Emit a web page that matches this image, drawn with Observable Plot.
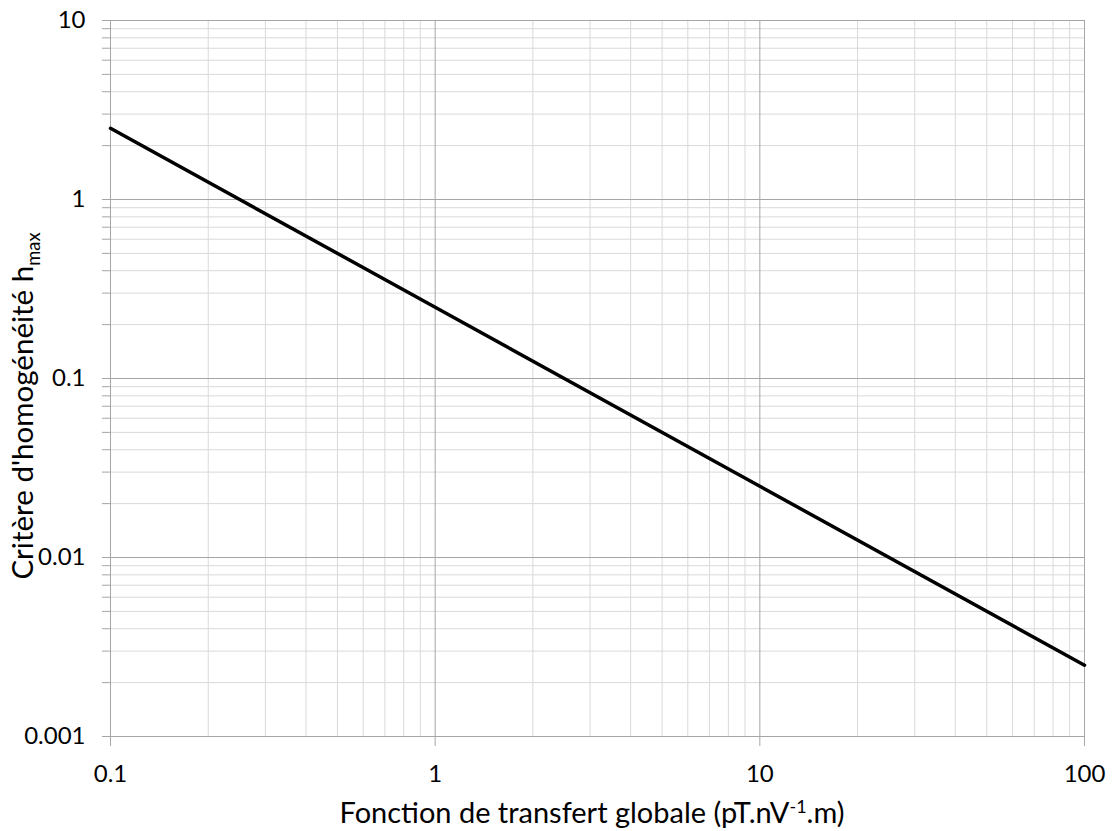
<!DOCTYPE html>
<html><head><meta charset="utf-8">
<script src="https://cdn.jsdelivr.net/npm/d3@7"></script>
<script src="https://cdn.jsdelivr.net/npm/@observablehq/plot@0.6"></script>
<style>body{margin:0;background:#fff;} svg{font-family:Lato,sans-serif;}</style>
</head><body><div id="chart"></div>
<script>
const transfer = [0.1, 1, 10, 100];
const hmax = [2.5, 0.25, 0.025, 0.0025];
const xMajor = [0.1, 1, 10, 100];
const yMajor = [0.001, 0.01, 0.1, 1, 10];
const xLabels = ["0.1", "1", "10", "100"];
const yLabels = ["0.001", "0.01", "0.1", "1", "10"];
const xMinor = [0.2,0.3,0.4,0.5,0.6,0.7,0.8,0.9,2,3,4,5,6,7,8,9,20,30,40,50,60,70,80,90];
const yMinor = [0.002,0.003,0.004,0.005,0.006,0.007,0.008,0.009,0.02,0.03,0.04,0.05,0.06,0.07,0.08,0.09,0.2,0.3,0.4,0.5,0.6,0.7,0.8,0.9,2,3,4,5,6,7,8,9];
const xTitle = ["Fonction de transfert globale (pT.nV", "-1", ".m)"];
const yTitle = ["Critère d'homogénéité h", "max"];

const data = transfer.map((x, i) => ({x, y: hmax[i]}));
const yAll = [...yMajor, ...yMinor];

const plot = Plot.plot({
  width: 1113, height: 831,
  marginLeft: 110, marginRight: 29, marginTop: 20, marginBottom: 95,
  x: {type: "log", domain: [0.1, 100]},
  y: {type: "log", domain: [0.001, 10]},
  style: {fontSize: "24px", color: "#000", fontFamily: "Lato, sans-serif"},
  marks: [
    Plot.gridX(xMinor, {stroke: "#d9d9d9", strokeOpacity: 1, strokeWidth: 1}),
    Plot.gridY(yMinor, {stroke: "#d9d9d9", strokeOpacity: 1, strokeWidth: 1}),
    Plot.gridX(xMajor, {stroke: "#a6a6a6", strokeOpacity: 1, strokeWidth: 1}),
    Plot.gridY(yMajor, {stroke: "#a6a6a6", strokeOpacity: 1, strokeWidth: 1}),
    Plot.axisX(xMajor, {tickSize: 10, stroke: "#a6a6a6", tickPadding: 18, label: null,
      tickFormat: d => xLabels[xMajor.indexOf(d)], fontSize: 24, fill: "#000"}),
    Plot.axisY(yAll, {tickSize: 8, stroke: "#a6a6a6", tickPadding: 17, label: null,
      tickFormat: d => { const i = yMajor.indexOf(d); return i >= 0 ? yLabels[i] : ""; }, fontSize: 24, fill: "#000"}),
    Plot.ruleX([0.1], {stroke: "#a6a6a6"}),
    Plot.ruleY([0.001], {stroke: "#a6a6a6"}),
    Plot.line(data, {x: "x", y: "y", stroke: "#000", strokeWidth: 3.5})
  ]
});
document.getElementById("chart").appendChild(plot);
const svg = d3.select(plot);

function fit(node, target) {
  const fs = parseFloat(node.style.fontSize);
  const w = node.getComputedTextLength();
  const nfs = fs * target / w;
  d3.select(node).style("font-size", nfs + "px");
  d3.select(node).selectAll("tspan.sup").style("font-size", (nfs * 0.62) + "px");
  return nfs;
}

const xt = svg.append("text").attr("x", 592).attr("y", 823).attr("text-anchor", "middle")
  .style("font-size", "26px").attr("fill", "#000");
xt.append("tspan").text(xTitle[0]);
xt.append("tspan").attr("class", "sup").text(xTitle[1]).attr("dy", -10).style("font-size", "16px");
xt.append("tspan").text(xTitle[2]).attr("dy", 10);
fit(xt.node(), 505);

const yt = svg.append("text").attr("transform", "translate(33,406) rotate(-90)").attr("text-anchor", "middle")
  .style("font-size", "26px").attr("fill", "#000");
yt.append("tspan").text(yTitle[0]);
yt.append("tspan").attr("class", "sup").text(yTitle[1]).attr("dy", 7).style("font-size", "16px");
fit(yt.node(), 347);
</script></body></html>
